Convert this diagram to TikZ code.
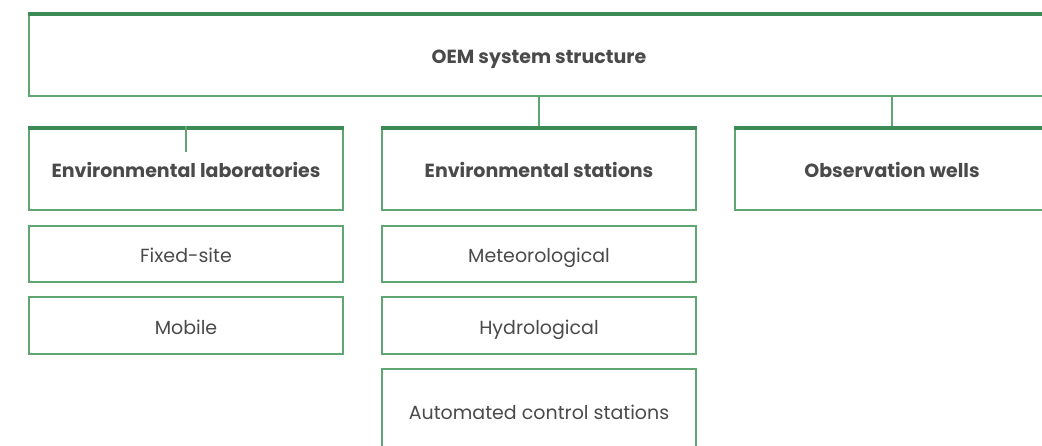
\documentclass[tikz,border=0pt]{standalone}
\usepackage{fontspec}
\setmainfont{Poppins}
\usepackage{xcolor}
\usetikzlibrary{positioning}
\definecolor{barstroke}{HTML}{3C8A55}
\definecolor{boxline}{HTML}{5FA673}
\definecolor{labeltext}{HTML}{4A4A4A}
\newcommand{\colw}{314}
\tikzset{
    hdrbox/.style={rectangle, draw=boxline, line width=1.3pt, fill=white,
    minimum width=\colw, minimum height=83, align=center, text=labeltext,
    text height=17.3pt, text depth=0pt,
    font=\fontsize{19}{22}\selectfont\bfseries},
    subbox/.style={rectangle, draw=boxline, line width=1.3pt, fill=white,
    minimum width=\colw, minimum height=56, align=center, text=labeltext,
    text height=17.3pt, text depth=0pt,
    font=\fontsize{19}{22}\selectfont},
    topbar/.style={draw=barstroke, line width=4.5pt},
    link/.style={draw=boxline, line width=1.3pt},
}

\begin{document}
\begin{tikzpicture}[x=1pt, y=-1pt]

% page frame, the chart runs off the right and bottom edges
        \useasboundingbox (0,0) rectangle (1042,446);
        \clip (0,0) rectangle (1042,446);

% root
        \node[hdrbox, minimum width=1020] (root) at (539,54.5) {OEM system structure};
        \draw[topbar] ([yshift=-1.5pt]root.north west) -- ([yshift=-1.5pt]root.north east);

% second level
        \node[hdrbox] (labs)     at (186,168.5) {Environmental laboratories};
        \node[hdrbox] (stations) at (539,168.5) {Environmental stations};
        \node[hdrbox] (wells)    at (892,168.5) {Observation wells};
        \foreach \n in {labs, stations, wells}
            \draw[topbar] ([yshift=-1.5pt]\n.north west) -- ([yshift=-1.5pt]\n.north east);

        \draw[link] (root.south -| stations.north) -- (stations.north);
        \draw[link] (root.south -| wells.north) -- (wells.north);
        \coordinate (labsstub) at ([yshift=-26pt]labs.north);
        \draw[link] (labs.north) -- (labsstub);

% third level
        \node[subbox] (fixed)  at (186,254)   {Fixed-site};
        \node[subbox, minimum height=57] (mobile) at (186,325.5) {Mobile};
        \node[subbox] (meteo)  at (539,254)   {Meteorological};
        \node[subbox, minimum height=57] (hydro)  at (539,325.5) {Hydrological};
        \node[subbox, minimum height=84] (auto)   at (539,411)   {Automated control stations};

\end{tikzpicture}
\end{document}
